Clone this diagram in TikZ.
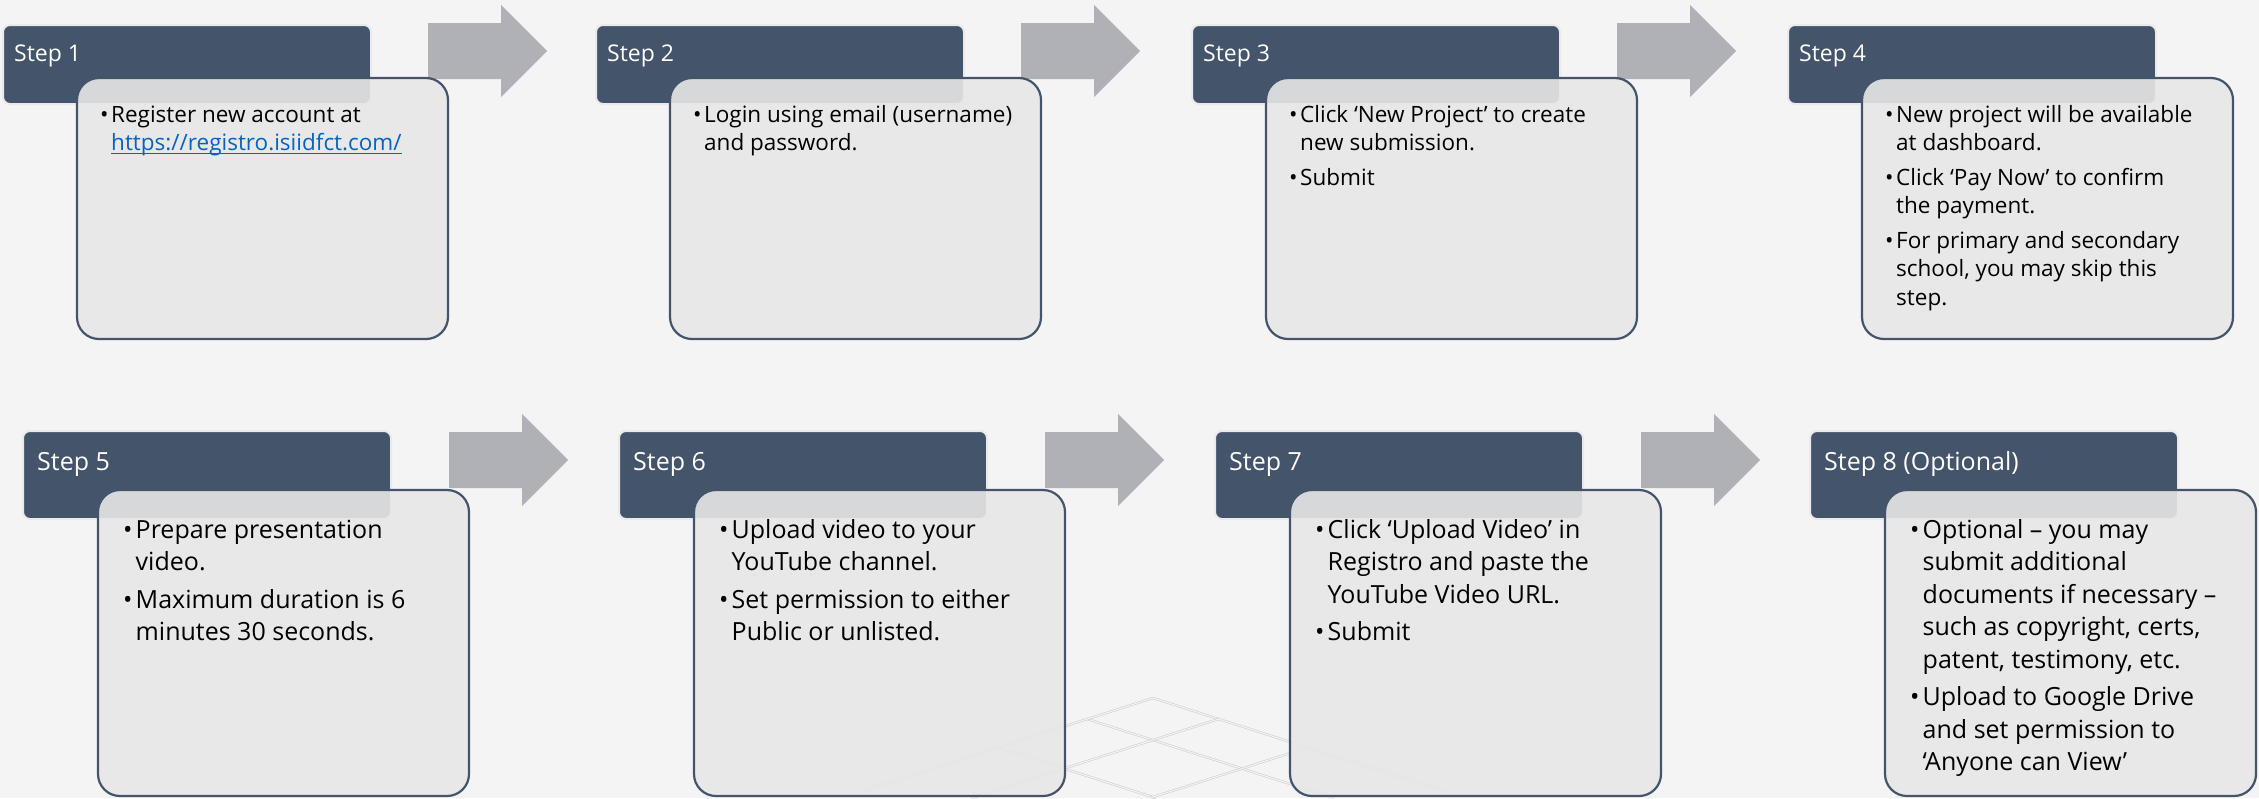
\documentclass[tikz,border=0pt]{standalone}
\usepackage{fontspec}
\setmainfont{Open Sans}
\definecolor{bgc}{HTML}{F4F4F4}
\definecolor{hdrc}{HTML}{44546A}
\definecolor{hdrbd}{HTML}{EAEAEA}
\definecolor{bodyc}{HTML}{E7E7E7}
\definecolor{arrc}{HTML}{AFB1B7}
\definecolor{linkc}{HTML}{0563C1}
\definecolor{gridc}{HTML}{CFCFCF}
\newdimen\bw
\newcommand\bi[1]{\par\hangindent=\bw\hangafter=1\noindent\hbox to\bw{\textbullet\hss}#1\par}
\newcommand\nl{\hfil\break}
\newcommand\lnk[1]{{\color{linkc}\setbox0\hbox{#1}\rlap{\rule[-4pt]{\wd0}{1.3pt}}\box0}}
\newcommand\rowA[1]{\vtop{\hsize=500pt\parindent=0pt\rightskip=0pt plus 1fil\parfillskip=0pt plus 1fil\bw=11pt\fontsize{22.5pt}{28.3pt}\selectfont\parskip=6.7pt #1}}
\newcommand\rowB[1]{\vtop{\hsize=500pt\parindent=0pt\rightskip=0pt plus 1fil\parfillskip=0pt plus 1fil\bw=12.5pt\fontsize{25pt}{32.5pt}\selectfont\parskip=5pt #1}}
\tikzset{
  hdr/.style={rounded corners=7pt, fill=hdrc, draw=hdrbd, line width=2pt, minimum width=368pt, inner sep=0pt, outer sep=0pt},
  hdrA/.style={hdr, minimum height=79pt},
  hdrB/.style={hdr, minimum height=88pt},
  bodybox/.style={rounded corners=22pt, fill=bodyc, fill opacity=0.9, draw=hdrc, draw opacity=1, line width=2.2pt, minimum width=371pt, inner sep=0pt, outer sep=0pt},
  bodyA/.style={bodybox, minimum height=261pt},
  bodyB/.style={bodybox, minimum height=306pt},
  htxtA/.style={text=white, inner sep=0pt, anchor=base west, font=\fontsize{23pt}{27pt}\selectfont},
  htxtB/.style={text=white, inner sep=0pt, anchor=base west, font=\fontsize{25pt}{30pt}\selectfont},
  btxt/.style={text=black, inner sep=0pt, anchor=base west},
  arrowshape/.style={fill=arrc},
  gridln/.style={draw=gridc, line width=0.6pt, double=bgc, double distance=1.1pt}
}
\newcommand\stepar[2]{\fill[arrowshape] (#1,#2-28) -- (#1+73,#2-28) -- (#1+73,#2-46) -- (#1+119,#2) -- (#1+73,#2+46) -- (#1+73,#2+28) -- (#1,#2+28) -- cycle;}
\begin{document}
\begin{tikzpicture}[x=1pt,y=-1pt]
\fill[bgc] (0,0) rectangle (2259,798);
\useasboundingbox (0,0) rectangle (2259,798);
% faint perspective floor grid
\coordinate (gA1s) at (1153,698); \coordinate (gA1e) at (1450,793);
\coordinate (gA2s) at (1087,719); \coordinate (gA2e) at (1334,798);
\coordinate (gA3s) at (998,747.5); \coordinate (gA3e) at (1156,798);
\coordinate (gB1s) at (1153,698); \coordinate (gB1e) at (860,792);
\coordinate (gB2s) at (1218.6,719); \coordinate (gB2e) at (972,798);
\coordinate (gB3s) at (1307.7,747.5); \coordinate (gB3e) at (1150,798);
\draw[gridln] (gA1s) -- (gA1e);
\draw[gridln] (gA2s) -- (gA2e);
\draw[gridln] (gA3s) -- (gA3e);
\draw[gridln] (gB1s) -- (gB1e);
\draw[gridln] (gB2s) -- (gB2e);
\draw[gridln] (gB3s) -- (gB3e);
% arrows
\stepar{428}{51}
\stepar{1021}{51}
\stepar{1617}{51}
\stepar{449}{460}
\stepar{1045}{460}
\stepar{1641}{460}
% headers
\node[hdrA, anchor=north west] (h1) at (3,25) {};
\node[hdrA, anchor=north west] (h2) at (596,25) {};
\node[hdrA, anchor=north west] (h3) at (1192,25) {};
\node[hdrA, anchor=north west] (h4) at (1788,25) {};
\node[hdrB, anchor=north west] (h5) at (23,431) {};
\node[hdrB, anchor=north west] (h6) at (619,431) {};
\node[hdrB, anchor=north west] (h7) at (1215,431) {};
\node[hdrB, anchor=north west] (h8) at (1810,431) {};
\node[htxtA] (s1) at (14,61) {Step 1};
\node[htxtA] (s2) at (607,61) {Step 2};
\node[htxtA] (s3) at (1203,61) {Step 3};
\node[htxtA] (s4) at (1799,61) {Step 4};
\node[htxtB] (s5) at (37,470.5) {Step 5};
\node[htxtB] (s6) at (633,470.5) {Step 6};
\node[htxtB] (s7) at (1229,470.5) {Step 7};
\node[htxtB] (s8) at (1824,470.5) {Step 8 (Optional)};
% bodies
\node[bodyA, anchor=north west] (b1) at (77,78) {};
\node[bodyA, anchor=north west] (b2) at (670,78) {};
\node[bodyA, anchor=north west] (b3) at (1266,78) {};
\node[bodyA, anchor=north west] (b4) at (1862,78) {};
\node[bodyB, anchor=north west] (b5) at (98,490) {};
\node[bodyB, anchor=north west] (b6) at (694,490) {};
\node[bodyB, anchor=north west] (b7) at (1290,490) {};
\node[bodyB, anchor=north west] (b8) at (1885,490) {};
% body texts
\node[btxt] (t1) at (100,122) {\rowA{\bi{Register new account at\nl \lnk{https://registro.isiidfct.com/}}}};
\node[btxt] (t2) at (693,122) {\rowA{\bi{Login using email (username)\nl and password.}}};
\node[btxt] (t3) at (1289,122) {\rowA{\bi{Click ‘New Project’ to create\nl new submission.}\bi{Submit}}};
\node[btxt] (t4) at (1885,122) {\rowA{\bi{New project will be available\nl at dashboard.}\bi{Click ‘Pay Now’ to confirm\nl the payment.}\bi{For primary and secondary\nl school, you may skip this\nl step.}}};
\node[btxt] (t5) at (123,538) {\rowB{\bi{Prepare presentation\nl video.}\bi{Maximum duration is 6\nl minutes 30 seconds.}}};
\node[btxt] (t6) at (719,538) {\rowB{\bi{Upload video to your\nl YouTube channel.}\bi{Set permission to either\nl Public or unlisted.}}};
\node[btxt] (t7) at (1315,538) {\rowB{\bi{Click ‘Upload Video’ in\nl Registro and paste the\nl YouTube Video URL.}\bi{Submit}}};
\node[btxt] (t8) at (1910,538) {\rowB{\bi{Optional – you may\nl submit additional\nl documents if necessary –\nl such as copyright, certs,\nl patent, testimony, etc.}\bi{Upload to Google Drive\nl and set permission to\nl ‘Anyone can View’}}};
\end{tikzpicture}
\end{document}
